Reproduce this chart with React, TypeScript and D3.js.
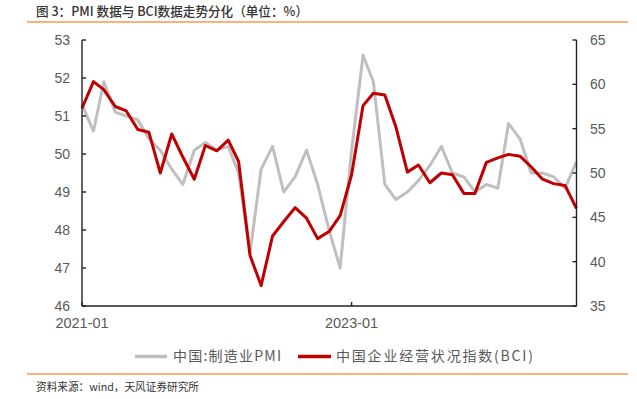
import React from 'react'
import * as d3 from 'd3'

// months 2021-01 .. 2024-09
const months = d3.timeMonth.range(new Date(2021, 0, 1), new Date(2024, 9, 1))

// 中国:制造业PMI (left axis)
const pmi = [
    51.3, 50.6, 51.9, 51.1, 51.0, 50.9, 50.4, 50.1, 49.6, 49.2, 50.1, 50.3,
    50.1, 50.2, 49.5, 47.4, 49.6, 50.2, 49.0, 49.4, 50.1, 49.2, 48.0, 47.0,
    50.1, 52.6, 51.9, 49.2, 48.8, 49.0, 49.3, 49.7, 50.2, 49.5, 49.4, 49.0,
    49.2, 49.1, 50.8, 50.4, 49.5, 49.5, 49.4, 49.1, 49.8,
]

// 中国企业经营状况指数(BCI) (right axis)
const bci = [
    57.3, 60.3, 59.4, 57.5, 57.0, 54.9, 54.6, 50.0, 54.4, 51.8, 49.3, 53.1,
    52.5, 53.7, 51.3, 40.7, 37.3, 42.9, 44.5, 46.1, 44.9, 42.6, 43.4, 45.2,
    49.8, 57.6, 59.0, 58.8, 55.2, 50.1, 50.9, 48.9, 50.0, 49.8, 47.7, 47.7,
    51.2, 51.7, 52.1, 51.9, 50.7, 49.3, 48.8, 48.6, 46.0,
]

const leftTicks = [46, 47, 48, 49, 50, 51, 52, 53]
const rightTicks = [35, 40, 45, 50, 55, 60, 65]
const xTicks = [new Date(2021, 0, 1), new Date(2023, 0, 1)]

const title = '图 3：PMI 数据与 BCI数据走势分化（单位：%）'
const source = '资料来源：wind，天风证券研究所'
const seriesNames = ['中国:制造业PMI', '中国企业经营状况指数(BCI)']

const W = 637
const H = 399
const m = { left: 82, right: 576.5, top: 40, bottom: 306 }

const labelColor = '#595959'
const orange = '#f59a4f'
const fontNum = '"Liberation Sans", Arial, sans-serif'
const fontCjk = '"Noto Sans CJK SC", "Liberation Sans", sans-serif'

export default function App() {
    const x = d3.scaleTime()
        .domain([months[0], months[months.length - 1]])
        .range([m.left, m.right])
    const yL = d3.scaleLinear().domain([46, 53]).range([m.bottom, m.top])
    const yR = d3.scaleLinear().domain([35, 65]).range([m.bottom, m.top])

    const linePmi = d3.line<number>()
        .x((_, i) => x(months[i]))
        .y(d => yL(d))
    const lineBci = d3.line<number>()
        .x((_, i) => x(months[i]))
        .y(d => yR(d))

    return (
        <svg width={W} height={H} style={{ position: 'absolute', left: 0, top: 0, background: '#fff' }}>
            {/* title */}
            <text x={36} y={15.5} fontSize={13} fill="#333" fontFamily={fontCjk} fontWeight={500}
                textLength={272} lengthAdjust="spacingAndGlyphs">{title}</text>
            <line x1={27} x2={628} y1={22} y2={22} stroke={orange} strokeWidth={1.5} />

            {/* series */}
            <path d={linePmi(pmi) || ''} fill="none" stroke="#bfbfbf" strokeWidth={3} strokeLinejoin="round" />
            <path d={lineBci(bci) || ''} fill="none" stroke="#c00000" strokeWidth={3} strokeLinejoin="round" />

            {/* axes */}
            <g stroke="#222" strokeWidth={1.4}>
                <line x1={m.left} x2={m.left} y1={m.top} y2={m.bottom} />
                <line x1={m.right} x2={m.right} y1={m.top} y2={m.bottom} />
                <line x1={m.left} x2={m.right} y1={m.bottom} y2={m.bottom} />
                {leftTicks.map(t => (
                    <line key={'l' + t} x1={m.left} x2={m.left + 4} y1={yL(t)} y2={yL(t)} />
                ))}
                {rightTicks.map(t => (
                    <line key={'r' + t} x1={m.right - 4} x2={m.right} y1={yR(t)} y2={yR(t)} />
                ))}
                {xTicks.map((t, i) => (
                    <line key={'x' + i} x1={x(t)} x2={x(t)} y1={m.bottom} y2={m.bottom - 4} />
                ))}
            </g>

            <g fontFamily={fontNum} fontSize={14} fill={labelColor}>
                {leftTicks.map(t => (
                    <text key={'lt' + t} x={70} y={yL(t)} dy="0.35em" textAnchor="end">{t}</text>
                ))}
                {rightTicks.map(t => (
                    <text key={'rt' + t} x={590} y={yR(t)} dy="0.35em">{t}</text>
                ))}
                {xTicks.map((t, i) => (
                    <text key={'xt' + i} x={x(t)} y={323} dy="0.35em" textAnchor="middle" fontSize={14.5}>
                        {d3.timeFormat('%Y-%m')(t)}
                    </text>
                ))}
            </g>

            {/* legend */}
            <g fontFamily={fontCjk} fontSize={14} fill={labelColor}>
                <line x1={135} x2={167} y1={356.5} y2={356.5} stroke="#bfbfbf" strokeWidth={3.5} />
                <text x={173} y={356.5} dy="0.35em" textLength={108} lengthAdjust="spacing">{seriesNames[0]}</text>
                <line x1={298} x2={331} y1={356.5} y2={356.5} stroke="#c00000" strokeWidth={3.5} />
                <text x={336} y={356.5} dy="0.35em" textLength={197} lengthAdjust="spacing">{seriesNames[1]}</text>
            </g>

            <line x1={27} x2={628} y1={374} y2={374} stroke={orange} strokeWidth={1.5} />
            <text x={36} y={387} dy="0.35em" fontFamily={fontCjk} fontSize={11} fill="#333"
                textLength={163} lengthAdjust="spacingAndGlyphs">{source}</text>
        </svg>
    )
}
